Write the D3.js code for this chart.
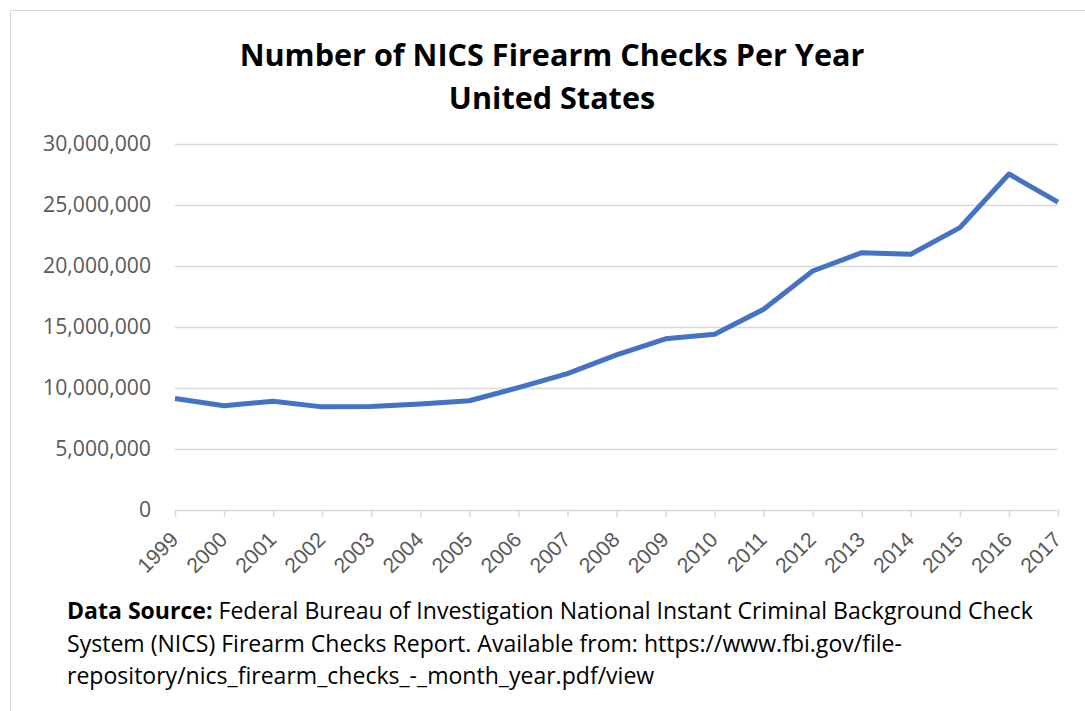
<!DOCTYPE html>
<html>
<head>
<meta charset="utf-8">
<script src="https://cdn.jsdelivr.net/npm/d3@7"></script>
<style>
  body{margin:0;background:#fff;}
  svg{display:block;font-family:"Open Sans",Lato,sans-serif;}
</style>
</head>
<body>
<svg id="chart" width="1085" height="711"></svg>
<script>
/* ---------- data ---------- */
const years  = ["1999","2000","2001","2002","2003","2004","2005","2006","2007","2008",
                "2009","2010","2011","2012","2013","2014","2015","2016","2017"];
const checks = [9138000,8543000,8910000,8454000,8482000,8688000,8953000,10037000,11178000,12709000,
                14034000,14410000,16455000,19592000,21093000,20969000,23142000,27539000,25235000];
const yTicks = [0,5000000,10000000,15000000,20000000,25000000,30000000];
const titleLines = ["Number of NICS Firearm Checks Per Year","United States"];
const sourceLines = [
  ["Data Source:"," Federal Bureau of Investigation National Instant Criminal Background Check"],
  ["","System (NICS) Firearm Checks Report. Available from: https://www.fbi.gov/file-"],
  ["","repository/nics_firearm_checks_-_month_year.pdf/view"]
];

/* ---------- layout ---------- */
const svg=d3.select("#chart");
const P={left:175,right:1058,top:144,bottom:510};

// scale a text selection's font so its first node reaches a target width
function fit(sel,target){
  const n=sel.node(), fs=+sel.attr("font-size");
  const w=n.getComputedTextLength();
  sel.attr("font-size",fs*target/w);
  return fs*target/w;
}

/* frame */
svg.append("rect").attr("x",10.5).attr("y",10.5).attr("width",1100).attr("height",720)
   .attr("fill","none").attr("stroke","#d9d9d9").attr("stroke-width",1);

const x=d3.scalePoint().domain(years).range([P.left,P.right]);
const y=d3.scaleLinear().domain([0,30000000]).range([P.bottom,P.top]);

/* gridlines */
svg.append("g").selectAll("line").data(yTicks.filter(d=>d>0)).join("line")
   .attr("x1",P.left).attr("x2",P.right)
   .attr("y1",d=>y(d)+0.5).attr("y2",d=>y(d)+0.5)
   .attr("stroke","#d9d9d9").attr("stroke-width",1.3);

/* y axis labels */
const fmt=d3.format(",");
const yl=svg.append("g").selectAll("text").data(yTicks).join("text")
   .attr("x",151).attr("y",d=>y(d)+7)
   .attr("text-anchor","end").attr("fill","#595959").attr("font-size",20)
   .text(d=>fmt(d));
const yfs=fit(yl.filter(d=>d===30000000),108);
yl.attr("font-size",yfs);

/* x axis */
const xg=svg.append("g").attr("transform",`translate(0,${P.bottom})`)
   .call(d3.axisBottom(x).tickSize(7).tickSizeOuter(0));
xg.select(".domain").attr("stroke","#d9d9d9").attr("stroke-width",1.5);
xg.selectAll(".tick line").attr("stroke","#d9d9d9").attr("stroke-width",1.5);
xg.selectAll(".tick text")
   .attr("font-family",null).attr("font-size",yfs).attr("fill","#595959")
   .attr("text-anchor","end").attr("dy",null).attr("y",null)
   .attr("transform","translate(4,31) rotate(-45)");

/* line */
svg.append("path").datum(checks)
   .attr("d",d3.line().x((d,i)=>x(years[i])).y(d=>y(d)))
   .attr("fill","none").attr("stroke","#4472c4").attr("stroke-width",5)
   .attr("stroke-linejoin","round").attr("stroke-linecap","butt");

/* title */
const tt=svg.append("g").selectAll("text").data(titleLines).join("text")
   .attr("x",552).attr("y",(d,i)=>66+i*43)
   .attr("text-anchor","middle").attr("font-weight","bold").attr("font-size",30)
   .attr("fill","#000").text(d=>d);
tt.attr("font-size",fit(tt.filter((d,i)=>i===0),625));

/* source note */
const st=svg.append("g").selectAll("text").data(sourceLines).join("text")
   .attr("x",67).attr("y",(d,i)=>619+i*32.5).attr("font-size",21).attr("fill","#000");
st.append("tspan").attr("font-weight","bold").text(d=>d[0]);
st.append("tspan").text(d=>d[1]);
st.attr("font-size",fit(st.filter((d,i)=>i===0),966));
</script>
</body>
</html>
